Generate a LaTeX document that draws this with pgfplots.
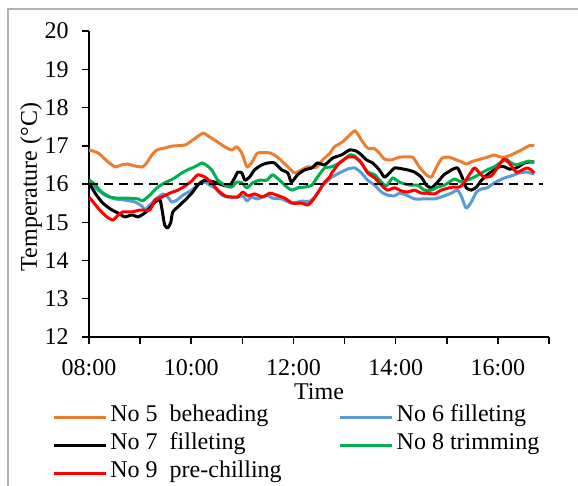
\documentclass[border=0pt]{standalone}
\usepackage{fontspec}
\setmainfont{Liberation Serif}
\usepackage{pgfplots}
\pgfplotsset{compat=1.18}
\definecolor{c5}{HTML}{ED7D31}
\definecolor{c6}{HTML}{5B9BD5}
\definecolor{c8}{HTML}{00B050}
\definecolor{c9}{HTML}{FF0000}

\begin{document}
\fontsize{12pt}{14pt}\selectfont
\begin{tikzpicture}
\begin{axis}[
    at={(0pt,0pt)}, anchor=south west,
    scale only axis, width=230pt, height=153pt,
    xmin=8, xmax=17, ymin=12, ymax=20,
    axis lines=left,
    axis line style={-, line width=0.75pt},
    tick style={black, line width=0.75pt},
    tick align=outside, major tick length=3.5pt,
    xtick={8,...,17},
    xticklabels={08:00,,10:00,,12:00,,14:00,,16:00,},
    xticklabel style={yshift=-3.5pt},
    ytick={12,...,20},
    yticklabel style={xshift=-2.5pt},
    /pgf/number format/assume math mode=true,
    xlabel={Time},
    ylabel={Temperature (°C)},
    xlabel style={at={(axis description cs:0.5,-0.18)}, anchor=center},
    ylabel style={at={(axis description cs:-0.126,0.49)}, anchor=center},
    legend columns=2,
    legend cell align=left,
    legend style={at={(axis description cs:0,0)}, anchor=north west,
        xshift=-18.5pt, yshift=-33pt, draw=none, fill=none, inner sep=0pt,
        row sep=0pt,
        nodes={inner xsep=1.5pt, inner ysep=0pt, text height=9pt, text depth=5pt},
        /tikz/every even column/.append style={column sep=27pt}},
    legend image code/.code={\draw[#1] (0pt,0pt) -- (26pt,0pt);},
    every axis plot/.append style={line width=1.5pt, line join=round, smooth, tension=0.35},
]
% No 5 beheading
\addplot[c5] coordinates {
(8.00,16.89) (8.18,16.81) (8.37,16.58) (8.51,16.45) (8.64,16.50) (8.76,16.52)
(8.90,16.47) (9.05,16.45) (9.13,16.55) (9.23,16.76) (9.33,16.89) (9.48,16.94)
(9.62,16.99) (9.88,17.02) (10.03,17.15) (10.23,17.33) (10.36,17.23) (10.46,17.15)
(10.66,16.97) (10.79,16.89) (10.89,16.97) (10.99,16.81) (11.09,16.45) (11.18,16.55)
(11.30,16.81) (11.54,16.81) (11.69,16.70) (11.89,16.45) (12.02,16.29) (12.16,16.37)
(12.28,16.45) (12.45,16.44) (12.57,16.63) (12.71,16.80) (12.80,16.97) (12.96,17.10)
(13.10,17.28) (13.21,17.39) (13.33,17.15) (13.45,16.94) (13.59,16.92) (13.68,16.81)
(13.78,16.65) (13.92,16.63) (14.07,16.70) (14.33,16.70) (14.46,16.45) (14.60,16.24)
(14.70,16.18) (14.80,16.45) (14.91,16.68) (15.05,16.70) (15.15,16.65) (15.29,16.58)
(15.38,16.52) (15.48,16.58) (15.60,16.63) (15.79,16.70) (15.93,16.76) (16.03,16.71)
(16.13,16.70) (16.26,16.76) (16.46,16.89) (16.61,17.00) (16.71,17.00)
};
\addlegendentry{No 5\ \ beheading}
% No 6 filleting
\addplot[c6] coordinates {
(8.00,16.05) (8.12,15.90) (8.31,15.71) (8.51,15.61) (8.70,15.58) (8.90,15.53)
(9.04,15.42) (9.09,15.32) (9.19,15.45) (9.33,15.63) (9.45,15.74) (9.54,15.66)
(9.62,15.53) (9.72,15.58) (9.84,15.71) (10.01,15.84) (10.17,16.03) (10.30,16.03)
(10.36,15.97) (10.46,15.90) (10.60,15.71) (10.71,15.66) (10.91,15.66) (11.01,15.69)
(11.09,15.56) (11.18,15.66) (11.30,15.61) (11.48,15.71) (11.59,15.63) (11.77,15.61)
(11.96,15.50) (12.16,15.55) (12.32,15.55) (12.45,15.71) (12.57,15.97) (12.65,16.05)
(12.75,16.18) (12.90,16.29) (13.06,16.39) (13.20,16.42) (13.33,16.29) (13.45,16.10)
(13.59,15.97) (13.72,15.79) (13.84,15.71) (13.98,15.69) (14.07,15.76) (14.21,15.71)
(14.37,15.61) (14.56,15.61) (14.76,15.61) (14.89,15.66) (15.05,15.74) (15.09,15.76)
(15.21,15.84) (15.29,15.66) (15.38,15.37) (15.48,15.53) (15.58,15.79) (15.68,15.87)
(15.79,15.90) (15.93,16.03) (16.13,16.16) (16.26,16.21) (16.42,16.29) (16.57,16.31)
(16.71,16.26)
};
\addlegendentry{No 6 filleting}
% No 7 filleting
\addplot[black] coordinates {
(8.00,16.03) (8.12,15.76) (8.27,15.50) (8.45,15.32) (8.57,15.24) (8.70,15.14)
(8.84,15.19) (8.96,15.14) (9.09,15.24) (9.19,15.37) (9.29,15.53) (9.39,15.58)
(9.43,15.32) (9.48,14.93) (9.54,14.85) (9.60,15.00) (9.64,15.27) (9.78,15.45)
(9.88,15.58) (10.01,15.76) (10.13,15.97) (10.23,16.08) (10.27,16.10) (10.46,16.05)
(10.62,15.97) (10.75,15.95) (10.85,16.16) (10.91,16.31) (10.99,16.29) (11.05,16.10)
(11.14,16.18) (11.24,16.37) (11.38,16.50) (11.50,16.55) (11.63,16.55) (11.77,16.37)
(11.89,16.29) (11.96,16.05) (12.08,16.24) (12.22,16.37) (12.36,16.42) (12.47,16.55)
(12.61,16.50) (12.77,16.68) (12.94,16.76) (13.10,16.89) (13.23,16.86) (13.33,16.76)
(13.43,16.63) (13.55,16.55) (13.68,16.37) (13.78,16.18) (13.88,16.29) (13.98,16.42)
(14.11,16.40) (14.23,16.37) (14.37,16.31) (14.50,16.18) (14.60,15.97) (14.70,15.90)
(14.82,16.05) (14.95,16.25) (15.05,16.33) (15.09,16.37) (15.21,16.42) (15.30,16.18)
(15.38,15.90) (15.48,15.84) (15.58,15.92) (15.68,16.10) (15.79,16.24) (15.93,16.37)
(16.03,16.45) (16.13,16.45) (16.22,16.39) (16.36,16.42) (16.52,16.55) (16.65,16.58)
(16.71,16.58)
};
\addlegendentry{No 7\ \ filleting}
% No 8 trimming
\addplot[c8] coordinates {
(8.00,16.10) (8.08,16.03) (8.25,15.79) (8.41,15.66) (8.57,15.63) (8.76,15.63)
(8.96,15.61) (9.05,15.56) (9.19,15.71) (9.33,15.90) (9.48,16.03) (9.64,16.13)
(9.82,16.29) (9.93,16.37) (10.07,16.45) (10.21,16.55) (10.27,16.52) (10.40,16.37)
(10.52,16.10) (10.66,15.97) (10.79,15.92) (10.89,16.05) (10.99,16.03) (11.09,15.90)
(11.20,16.03) (11.34,16.10) (11.48,16.10) (11.59,16.24) (11.73,16.10) (11.87,15.92)
(11.98,15.84) (12.08,15.90) (12.22,15.92) (12.36,15.97) (12.47,16.18) (12.61,16.42)
(12.75,16.45) (12.94,16.58) (13.10,16.76) (13.20,16.73) (13.33,16.55) (13.45,16.32)
(13.59,16.24) (13.72,16.05) (13.82,15.95) (13.94,16.16) (14.07,16.05) (14.27,15.97)
(14.43,15.97) (14.56,15.84) (14.70,15.84) (14.82,15.92) (14.95,15.97) (15.05,16.05)
(15.15,16.13) (15.29,16.05) (15.40,16.10) (15.54,16.18) (15.68,16.29) (15.79,16.37)
(15.93,16.45) (16.07,16.58) (16.16,16.65) (16.26,16.55) (16.36,16.50) (16.48,16.55)
(16.61,16.60) (16.71,16.55)
};
\addlegendentry{No 8 trimming}
% No 9 pre-chilling
\addplot[c9] coordinates {
(8.00,15.66) (8.08,15.53) (8.21,15.32) (8.35,15.14) (8.47,15.06) (8.57,15.19)
(8.66,15.27) (8.84,15.27) (9.00,15.32) (9.19,15.32) (9.29,15.58) (9.43,15.66)
(9.58,15.76) (9.74,15.84) (9.88,15.95) (10.01,16.08) (10.13,16.24) (10.27,16.18)
(10.40,16.03) (10.52,15.84) (10.66,15.69) (10.79,15.66) (10.91,15.66) (11.01,15.79)
(11.11,15.69) (11.24,15.74) (11.40,15.66) (11.54,15.76) (11.67,15.71) (11.83,15.63)
(11.98,15.50) (12.16,15.50) (12.28,15.45) (12.38,15.58) (12.51,15.84) (12.61,16.05)
(12.71,16.18) (12.75,16.29) (12.90,16.55) (13.06,16.70) (13.20,16.70) (13.33,16.55)
(13.45,16.29) (13.59,16.16) (13.72,15.97) (13.84,15.84) (13.98,15.90) (14.11,15.82)
(14.23,15.79) (14.37,15.84) (14.50,15.76) (14.62,15.76) (14.76,15.74) (14.89,15.84)
(15.05,15.90) (15.11,15.92) (15.25,15.92) (15.34,16.03) (15.44,16.24) (15.54,16.42)
(15.64,16.29) (15.73,16.18) (15.87,16.21) (15.99,16.42) (16.11,16.65) (16.22,16.55)
(16.36,16.31) (16.48,16.37) (16.57,16.42) (16.65,16.37) (16.71,16.29)
};
\addlegendentry{No 9\ \ pre-chilling}
% 16 degC reference
\addplot[black, dash pattern=on 4.7pt off 2.8pt, line width=1.4pt, sharp plot, forget plot]
  coordinates {(8,16) (16.88,16)};
\end{axis}
\draw[gray!60, line width=0.75pt] (-40.5pt,-90pt) -- (-40.5pt,164pt) -- (260pt,164pt);
\pgfresetboundingbox
\path (-44.5pt,-74.5pt) rectangle (244.5pt,168.5pt);
\end{tikzpicture}
\end{document}
